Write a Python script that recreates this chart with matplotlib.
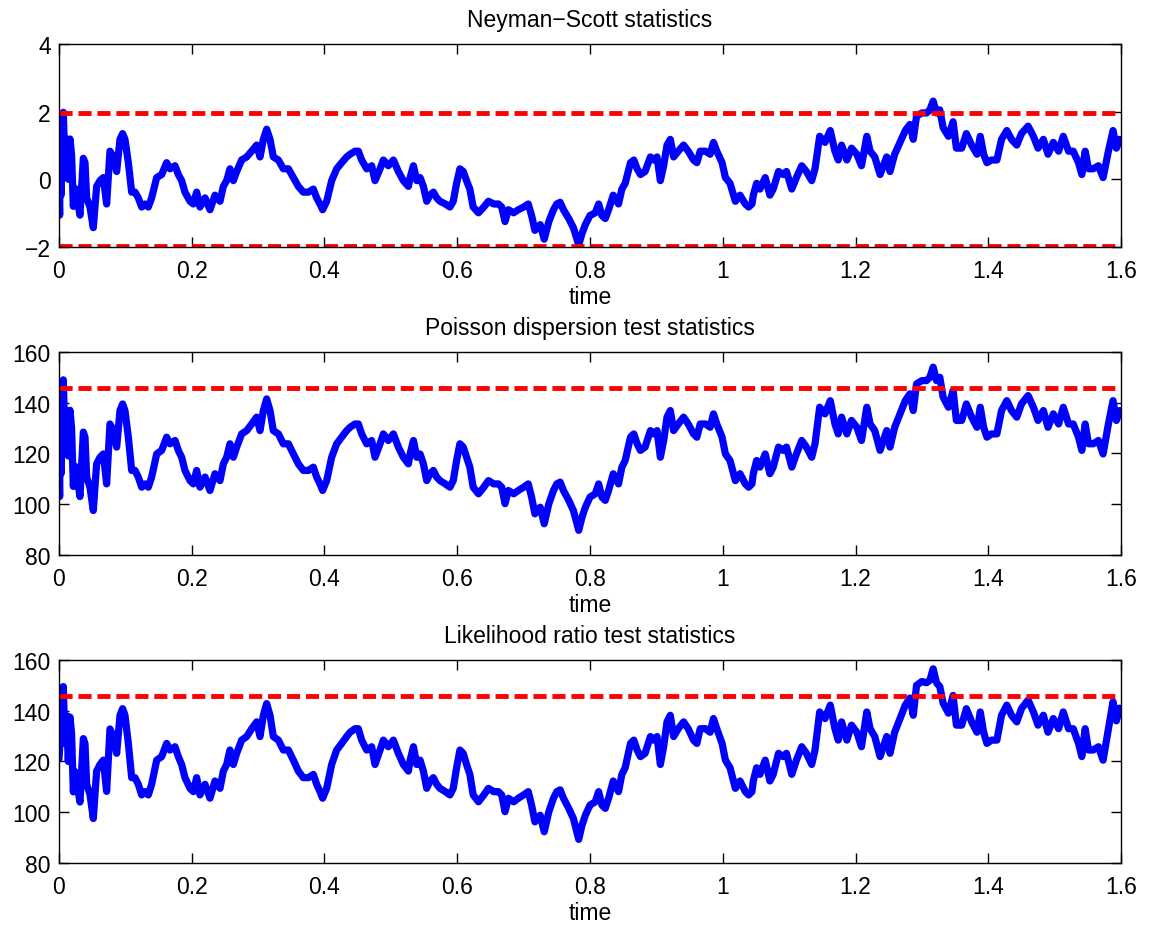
import matplotlib
matplotlib.use('Agg')
import matplotlib.pyplot as plt

# sample times (shared by all three statistics)
time = [
    0.000, 0.001, 0.002, 0.003, 0.004, 0.0065, 0.009, 0.0115, 0.014, 0.0166,
    0.019, 0.0216, 0.024, 0.0266, 0.0316, 0.0367, 0.0392, 0.0417, 0.0467, 0.0517,
    0.0567, 0.0618, 0.0668, 0.0718, 0.0768, 0.0819, 0.0869, 0.0919, 0.0959, 0.0994,
    0.1045, 0.1095, 0.1145, 0.1195, 0.1246, 0.1296, 0.1346, 0.1396, 0.1472, 0.1547,
    0.1622, 0.1672, 0.1748, 0.1798, 0.1848, 0.1898, 0.1974, 0.2024, 0.2074, 0.2124,
    0.2200, 0.2275, 0.2350, 0.2426, 0.2476, 0.2526, 0.2576, 0.2627, 0.2677, 0.2752,
    0.2828, 0.2903, 0.2978, 0.3029, 0.3079, 0.3129, 0.3179, 0.3229, 0.3305, 0.3380,
    0.3456, 0.3531, 0.3606, 0.3681, 0.3757, 0.3832, 0.3882, 0.3932, 0.3972, 0.4033,
    0.4108, 0.4184, 0.4259, 0.4334, 0.4385, 0.4460, 0.4510, 0.4560, 0.4636, 0.4711,
    0.4761, 0.4837, 0.4887, 0.4962, 0.5038, 0.5113, 0.5188, 0.5264,
    0.529, 0.534, 0.539, 0.544, 0.549, 0.554, 0.559, 0.564, 0.569, 0.574,
    0.582, 0.589, 0.594, 0.599, 0.604, 0.609, 0.614, 0.619, 0.624, 0.632,
    0.640, 0.647, 0.655, 0.662, 0.667, 0.672, 0.677, 0.685, 0.692, 0.700,
    0.707, 0.712, 0.717, 0.725, 0.731, 0.738, 0.745, 0.750, 0.755, 0.760,
    0.768, 0.775, 0.783, 0.788, 0.793, 0.800, 0.808, 0.813, 0.818, 0.823,
    0.828, 0.835, 0.843, 0.848, 0.853, 0.861, 0.866, 0.871, 0.876, 0.883,
    0.891, 0.896, 0.901, 0.906, 0.911, 0.916, 0.921, 0.926, 0.933, 0.941,
    0.948, 0.956, 0.961, 0.966, 0.974, 0.981, 0.986, 0.991, 0.999, 1.004,
    1.011, 1.019, 1.026, 1.034, 1.039, 1.044,
    1.046, 1.051, 1.056, 1.064, 1.071, 1.076, 1.084, 1.091, 1.096, 1.104,
    1.111, 1.119, 1.126, 1.134, 1.139, 1.146, 1.154, 1.162, 1.169, 1.174,
    1.179, 1.187, 1.194, 1.202, 1.209, 1.217, 1.222, 1.229, 1.237, 1.242,
    1.247, 1.252, 1.259, 1.267, 1.275, 1.282, 1.287, 1.292, 1.300, 1.307,
    1.312, 1.317, 1.322, 1.327, 1.332, 1.340, 1.347, 1.352, 1.360, 1.367,
    1.375, 1.383, 1.388, 1.393, 1.398, 1.405, 1.413, 1.420, 1.428, 1.435,
    1.443, 1.450, 1.460, 1.468, 1.475, 1.483, 1.490, 1.498, 1.506, 1.513,
    1.521, 1.528, 1.536, 1.541, 1.546, 1.551, 1.558, 1.566, 1.573, 1.581,
    1.588, 1.593, 1.598,
]

neyman_scott = [
    -0.07, -1.06, 1.25, -0.47, 1.71, 1.98, 0.39, 1.19, 0.00, 1.19,
    0.72, -0.80, -0.27, -0.47, -1.06, 0.62, 0.49, -0.55, -0.82, -1.43,
    -0.21, -0.04, 0.05, -0.73, 0.83, 0.66, 0.23, 1.18, 1.35, 1.18,
    0.49, -0.38, -0.38, -0.55, -0.82, -0.73, -0.82, -0.55, 0.05, 0.14,
    0.49, 0.31, 0.40, 0.14, -0.04, -0.38, -0.65, -0.73, -0.38, -0.82,
    -0.55, -0.90, -0.47, -0.65, -0.21, -0.04, 0.31, -0.04, 0.23, 0.57,
    0.66, 0.83, 1.01, 0.66, 1.18, 1.48, 1.18, 0.66, 0.57, 0.31,
    0.31, 0.05, -0.21, -0.38, -0.38, -0.29, -0.55, -0.73, -0.90, -0.65,
    -0.04, 0.31, 0.49, 0.66, 0.74, 0.83, 0.83, 0.57, 0.31, 0.40,
    -0.04, 0.31, 0.57, 0.40, 0.57, 0.23, -0.04, -0.21,
    0.05, 0.40, -0.04, 0.05, -0.21, -0.65, -0.47, -0.38, -0.55, -0.65,
    -0.73, -0.82, -0.65, -0.12, 0.31, 0.23, -0.04, -0.29, -0.82, -0.99,
    -0.82, -0.65, -0.73, -0.73, -0.82, -1.25, -0.90, -0.99, -0.90, -0.82,
    -0.73, -1.07, -1.51, -1.34, -1.77, -1.25, -0.90, -0.73, -0.68, -0.90,
    -1.16, -1.43, -1.94, -1.60, -1.34, -1.07, -0.99, -0.73, -1.07, -1.16,
    -0.90, -0.47, -0.73, -0.29, -0.12, 0.49, 0.57, 0.31, 0.14, 0.23,
    0.66, 0.57, 0.66, -0.04, 0.40, 1.01, 1.18, 0.66, 0.83, 1.01,
    0.83, 0.57, 0.49, 0.83, 0.83, 0.74, 1.09, 0.83, 0.49, 0.05,
    -0.12, -0.65, -0.47, -0.73, -0.82, -0.73,
    -0.47, -0.12, -0.29, 0.05, -0.47, -0.29, 0.23, 0.14, 0.23, -0.29,
    0.05, 0.40, 0.23, -0.04, 0.31, 1.27, 1.09, 1.44, 0.83, 0.57,
    1.01, 0.57, 0.92, 0.74, 0.40, 1.27, 0.83, 0.66, 0.14, 0.40,
    0.66, 0.23, 0.74, 1.09, 1.44, 1.62, 1.18, 1.87, 1.96, 1.96,
    2.05, 2.31, 1.96, 2.05, 1.53, 1.27, 1.70, 0.92, 0.92, 1.35,
    1.01, 0.74, 1.27, 0.74, 0.49, 0.57, 0.57, 1.18, 1.44, 1.18,
    1.01, 1.35, 1.57, 1.27, 0.92, 1.18, 0.74, 1.09, 0.83, 1.27,
    0.83, 0.83, 0.49, 0.14, 0.83, 0.31, 0.31, 0.40, 0.05, 0.83,
    1.44, 0.92, 1.18,
]

poisson_disp = [
    118, 103, 138, 112, 145, 149, 125, 137, 119, 137,
    130, 107, 115, 112, 103, 128.4, 126.4, 110.7, 106.7, 97.5,
    115.9, 118.5, 119.8, 108.0, 131.6, 129.0, 122.5, 136.9, 139.5, 136.9,
    126.4, 113.3, 113.3, 110.7, 106.7, 108.0, 106.7, 110.7, 119.8, 121.2,
    126.4, 123.8, 125.1, 121.2, 118.5, 113.3, 109.3, 108.0, 113.3, 106.7,
    110.7, 105.4, 112.0, 109.3, 115.9, 118.5, 123.8, 118.5, 122.5, 127.7,
    129.0, 131.6, 134.3, 129.0, 136.9, 141.5, 136.9, 129.0, 127.7, 123.8,
    123.8, 119.8, 115.9, 113.3, 113.3, 114.6, 110.7, 108.0, 105.4, 109.3,
    118.5, 123.8, 126.4, 129.0, 130.3, 131.6, 131.6, 127.7, 123.8, 125.1,
    118.5, 123.8, 127.7, 125.1, 127.7, 122.5, 118.5, 115.9,
    119.8, 125.1, 118.5, 119.8, 115.9, 109.3, 112.0, 113.3, 110.7, 109.3,
    108.0, 106.7, 109.3, 117.2, 123.8, 122.5, 118.5, 114.6, 106.7, 104.1,
    106.7, 109.3, 108.0, 108.0, 106.7, 100.2, 105.4, 104.1, 105.4, 106.7,
    108.0, 102.8, 96.2, 98.8, 92.3, 100.2, 105.4, 108.0, 108.7, 105.4,
    101.5, 97.5, 89.7, 94.9, 98.8, 102.8, 104.1, 108.0, 102.8, 101.5,
    105.4, 112.0, 108.0, 114.6, 117.2, 126.4, 127.7, 123.8, 121.2, 122.5,
    129.0, 127.7, 129.0, 118.5, 125.1, 134.3, 136.9, 129.0, 131.6, 134.3,
    131.6, 127.7, 126.4, 131.6, 131.6, 130.3, 135.6, 131.6, 126.4, 119.8,
    117.2, 109.3, 112.0, 108.0, 106.7, 108.0,
    112.0, 117.2, 114.6, 119.8, 112.0, 114.6, 122.5, 121.2, 122.5, 114.6,
    119.8, 125.1, 122.5, 118.5, 123.8, 138.2, 135.6, 140.8, 131.6, 127.7,
    134.3, 127.7, 133.0, 130.3, 125.1, 138.2, 131.6, 129.0, 121.2, 125.1,
    129.0, 122.5, 130.3, 135.6, 140.8, 143.5, 136.9, 147.4, 148.7, 148.7,
    150.0, 154.0, 148.7, 150.0, 142.2, 138.2, 144.8, 133.0, 133.0, 139.5,
    134.3, 130.3, 138.2, 130.3, 126.4, 127.7, 127.7, 136.9, 140.8, 136.9,
    134.3, 139.5, 142.8, 138.2, 133.0, 136.9, 130.3, 135.6, 131.6, 138.2,
    131.6, 131.6, 126.4, 121.2, 131.6, 123.8, 123.8, 125.1, 119.8, 131.6,
    140.8, 133.0, 136.9,
]

likelihood_ratio = [
    121, 125, 139, 128, 146, 149.5, 127, 138, 120, 137.5,
    131, 108, 116, 112, 104, 129, 127, 111, 107, 97.5,
    116.2, 118.8, 120.5, 108.2, 132.8, 129.8, 123.2, 138.2, 140.8, 138.2,
    127.1, 113.6, 113.6, 111, 106.8, 108.1, 106.8, 111, 120.5, 121.9,
    127.1, 124.5, 125.8, 121.9, 118.8, 113.6, 109.4, 108.1, 113.6, 106.8,
    111, 105.5, 112.3, 109.4, 116.2, 118.8, 124.5, 118.8, 123.2, 128.4,
    129.8, 132.9, 135.6, 129.8, 138.2, 142.8, 138.2, 129.8, 128.4, 124.5,
    124.5, 120.5, 116.2, 113.6, 113.6, 114.9, 111, 108.1, 105.5, 109.4,
    118.8, 124.5, 127.1, 129.8, 131.5, 132.9, 132.9, 128.4, 124.5, 125.8,
    118.8, 124.5, 128.4, 125.8, 128.4, 123.2, 118.8, 116.2,
    120.5, 125.8, 118.8, 120.5, 116.2, 109.4, 112.3, 113.6, 111, 109.4,
    108.1, 106.8, 109.4, 117.5, 124.5, 123.2, 118.8, 114.9, 106.8, 104.1,
    106.8, 109.4, 108.1, 108.1, 106.8, 100.2, 105.5, 104.1, 105.5, 106.8,
    108.1, 102.8, 96.2, 98.8, 92.3, 100.2, 105.5, 108.1, 108.8, 105.5,
    101.5, 97.5, 89.3, 94.9, 98.8, 102.8, 104.1, 108.1, 102.8, 101.5,
    105.5, 112.3, 108.1, 114.9, 117.5, 127.1, 128.4, 124.5, 121.9, 123.2,
    129.8, 128.4, 129.8, 118.8, 125.8, 135.6, 138.2, 129.8, 132.9, 135.6,
    132.9, 128.4, 127.1, 132.9, 132.9, 131.5, 136.9, 132.9, 127.1, 120.5,
    117.5, 109.4, 112.3, 108.1, 106.8, 108.1,
    112.3, 117.5, 114.9, 120.5, 112.3, 114.9, 123.2, 121.9, 123.2, 114.9,
    120.5, 125.8, 123.2, 118.8, 124.5, 139.5, 136.9, 142.2, 132.9, 128.4,
    135.6, 128.4, 134.3, 131.5, 125.8, 139.5, 132.9, 129.8, 121.9, 125.8,
    129.8, 123.2, 131.5, 136.9, 142.2, 145, 138.2, 150, 151.5, 151,
    152, 156.5, 151, 149.5, 143, 139, 146, 134.3, 134.3, 140.8,
    135.6, 131.5, 139.5, 131.5, 127.1, 128.4, 128.4, 138.2, 142.2, 138.2,
    135.6, 140.8, 144.2, 139.5, 134.3, 138.2, 131.5, 136.9, 132.9, 139.5,
    132.9, 132.9, 127.1, 121.9, 132.9, 124.5, 124.5, 125.8, 120.5, 132.9,
    143.5, 136, 141,
]

# critical values (red dashed lines)
ns_bounds = [1.96, -1.96]
pd_bound = 145.7
lr_bound = 145.7

titles = ["Neyman\u2212Scott statistics",
          "Poisson dispersion test statistics",
          "Likelihood ratio test statistics"]
xticks = [0, 0.2, 0.4, 0.6, 0.8, 1.0, 1.2, 1.4, 1.6]
xticklabels = ["0", "0.2", "0.4", "0.6", "0.8", "1", "1.2", "1.4", "1.6"]

plt.rcParams['font.family'] = ['Liberation Sans', 'DejaVu Sans']
plt.rcParams['font.size'] = 16.5

fig = plt.figure(figsize=(11.52, 9.28), dpi=100)
rects = [[0.0512, 0.7328, 0.9219, 0.2188],
         [0.0512, 0.4009, 0.9219, 0.2188],
         [0.0512, 0.0690, 0.9219, 0.2188]]
series = [neyman_scott, poisson_disp, likelihood_ratio]
bounds = [ns_bounds, [pd_bound], [lr_bound]]
ylims = [(-2, 4), (80, 160), (80, 160)]
yticks = [[-2, 0, 2, 4], [80, 100, 120, 140, 160], [80, 100, 120, 140, 160]]

for i in range(3):
    ax = fig.add_axes(rects[i])
    ax.plot(time, series[i], color=(0, 0, 1), lw=5.2, solid_joinstyle='round',
            solid_capstyle='round')
    for b in bounds[i]:
        ax.plot([0, 1.6], [b, b], color=(1, 0, 0), lw=3.5,
                linestyle=(0, (2.7, 1.2)))
    ax.set_xlim(0, 1.6)
    ax.set_ylim(*ylims[i])
    ax.set_xticks(xticks)
    ax.set_xticklabels(xticklabels)
    ax.set_yticks(yticks[i])
    ax.tick_params(direction='in', top=True, right=True, length=7, width=1,
                   labelsize=16.5)
    ax.tick_params(axis='x', pad=9)
    ax.tick_params(axis='y', pad=6)
    for sp in ax.spines.values():
        sp.set_linewidth(1)
    ax.set_xlabel("time", labelpad=2)
    ax.set_title(titles[i], fontsize=16.5, pad=13)

fig.savefig("out.png", dpi=100)
plt.close(fig)
